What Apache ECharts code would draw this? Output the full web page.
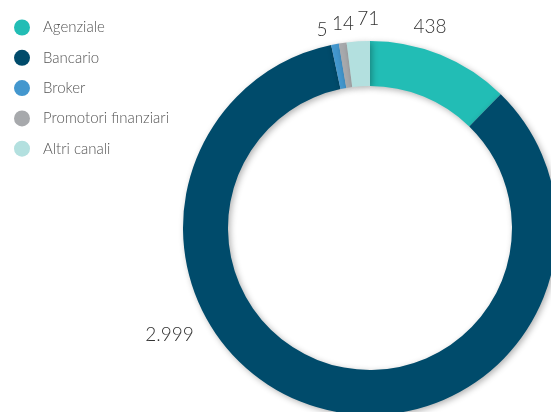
<!DOCTYPE html>
<html>
<head>
<meta charset="utf-8">
<script src="https://cdn.jsdelivr.net/npm/echarts@6/dist/echarts.min.js"></script>
<style>html,body{margin:0;padding:0;background:#fff;}#c{width:551px;height:412px;}</style>
</head>
<body>
<div id="c"></div>
<script>
var categories = ['Agenziale', 'Bancario', 'Broker', 'Promotori finanziari', 'Altri canali'];
var values = [438, 2999, 5, 14, 71];
var valueLabels = ['438', '2.999', '5', '14', '71'];

var colors = ['#22bdb5', '#004b6b', '#4397ce', '#a7a9ac', '#b3e0df'];
var CX = 370, CY = 228, R_IN = 142, R_OUT = 187;
// label placement (angle clockwise from top in degrees, distance from centre)
var labelPlace = [[16.6, 210], [242, 227], [346.4, 204], [352.5, 206], [359.5, 209]];

var chart = echarts.init(document.getElementById('c'));
chart.setOption({
  animation: false,
  color: colors,
  legend: {
    orient: 'vertical',
    left: 9, top: 14.5,
    itemWidth: 16, itemHeight: 16, itemGap: 14.3,
    icon: 'circle',
    textStyle: { fontFamily: 'Lato', fontWeight: 300, fontSize: 15, color: '#555', padding: [0,0,0,8] },
    data: categories
  },
  series: [{
    type: 'pie',
    center: [CX, CY],
    radius: [R_IN, R_OUT],
    startAngle: 90,
    clockwise: true,
    minAngle: 2.4,
    avoidLabelOverlap: false,
    itemStyle: { shadowBlur: 6, shadowColor: 'rgba(0,0,0,0.3)', shadowOffsetX: 2, shadowOffsetY: 2 },
    label: {
      show: true, position: 'outside',
      formatter: function (p) { return valueLabels[p.dataIndex]; },
      fontFamily: 'Lato', fontWeight: 300, fontSize: 19, color: '#333'
    },
    labelLine: { show: false },
    labelLayout: function (p) {
      var lp = labelPlace[p.dataIndex];
      var a = lp[0] * Math.PI / 180;
      return { x: CX + Math.sin(a) * lp[1], y: CY - Math.cos(a) * lp[1], align: 'center', verticalAlign: 'middle' };
    },
    data: categories.map(function (c, i) { return { name: c, value: values[i] }; })
  }]
});
</script>
</body>
</html>
